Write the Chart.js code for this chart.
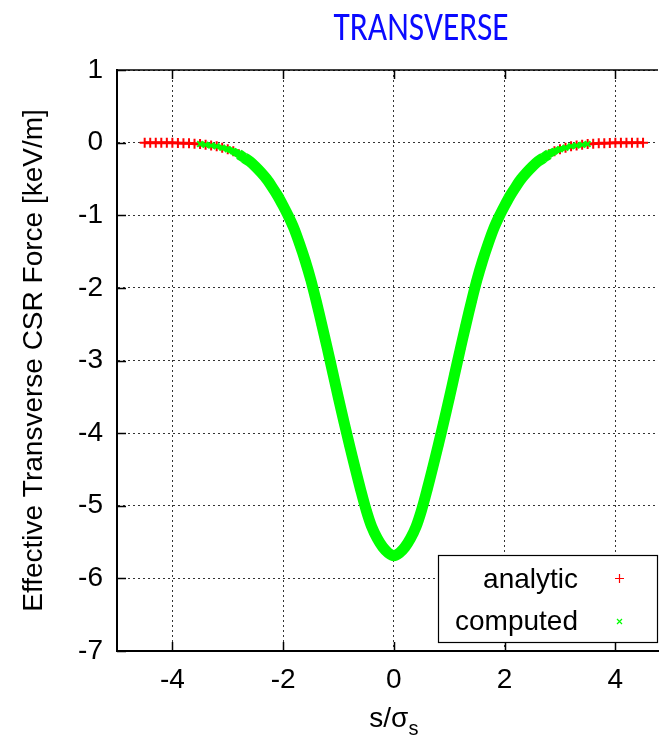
<!DOCTYPE html>
<html>
<head>
<meta charset="utf-8">
<script src="https://cdn.jsdelivr.net/npm/chart.js@4.4.1/dist/chart.umd.min.js"></script>
<style>
    body { margin: 0; background: #fff; }
    #wrap { width: 665px; height: 741px; position: relative; }
</style>
</head>
<body>
<div id="wrap"><canvas id="chart" width="665" height="741"></canvas></div>
<script>
// s / sigma_s positions and force values [keV/m]
const sAnalytic = [
    -4.5, -4.4, -4.3, -4.2, -4.1, -4.0, -3.9, -3.8, -3.7, -3.6,
    -3.5, -3.4, -3.3, -3.2, -3.1, -3.0, -2.9, -2.8, -2.7, -2.6,
    -2.5, -2.4, -2.3, -2.2, -2.1, -2.0, -1.9, -1.8, -1.7, -1.6,
    -1.5, -1.4, -1.3, -1.2, -1.1, -1.0, -0.9, -0.8, -0.7, -0.6,
    -0.5, -0.4, -0.3, -0.2, -0.1, 0.0, 0.1, 0.2, 0.3, 0.4,
    0.5, 0.6, 0.7, 0.8, 0.9, 1.0, 1.1, 1.2, 1.3, 1.4,
    1.5, 1.6, 1.7, 1.8, 1.9, 2.0, 2.1, 2.2, 2.3, 2.4,
    2.5, 2.6, 2.7, 2.8, 2.9, 3.0, 3.1, 3.2, 3.3, 3.4,
    3.5, 3.6, 3.7, 3.8, 3.9, 4.0, 4.1, 4.2, 4.3, 4.4, 4.5
];
const fAnalytic = [
    0, 0, -0.001, -0.001, -0.002, -0.003, -0.005, -0.007, -0.01, -0.015,
    -0.02, -0.03, -0.04, -0.05, -0.07, -0.09, -0.12, -0.16, -0.21, -0.26,
    -0.33, -0.41, -0.50, -0.61, -0.73, -0.87, -1.02, -1.19, -1.40, -1.63,
    -1.89, -2.19, -2.51, -2.84, -3.18, -3.52, -3.85, -4.17, -4.48, -4.78,
    -5.06, -5.29, -5.45, -5.57, -5.65, -5.68, -5.65, -5.57, -5.45, -5.29,
    -5.06, -4.78, -4.48, -4.17, -3.85, -3.52, -3.18, -2.84, -2.51, -2.19,
    -1.89, -1.63, -1.40, -1.19, -1.02, -0.87, -0.73, -0.61, -0.50, -0.41,
    -0.33, -0.26, -0.21, -0.16, -0.12, -0.09, -0.07, -0.05, -0.04, -0.03,
    -0.02, -0.015, -0.01, -0.007, -0.005, -0.003, -0.002, -0.001, -0.001, 0, 0
];

const sComputed = [
    -3.5, -3.4, -3.3, -3.2, -3.1, -3.0, -2.9, -2.8, -2.7, -2.6,
    -2.5, -2.4, -2.3, -2.2, -2.1, -2.0, -1.9, -1.8, -1.7, -1.6,
    -1.5, -1.4, -1.3, -1.2, -1.1, -1.0, -0.9, -0.8, -0.7, -0.6,
    -0.5, -0.4, -0.3, -0.2, -0.1, 0.0, 0.1, 0.2, 0.3, 0.4,
    0.5, 0.6, 0.7, 0.8, 0.9, 1.0, 1.1, 1.2, 1.3, 1.4,
    1.5, 1.6, 1.7, 1.8, 1.9, 2.0, 2.1, 2.2, 2.3, 2.4,
    2.5, 2.6, 2.7, 2.8, 2.9, 3.0, 3.1, 3.2, 3.3, 3.4, 3.5
];
const fComputed = [
    -0.02, -0.03, -0.04, -0.05, -0.07, -0.09, -0.12, -0.16, -0.21, -0.26,
    -0.33, -0.41, -0.50, -0.61, -0.73, -0.87, -1.02, -1.19, -1.40, -1.63,
    -1.89, -2.19, -2.51, -2.84, -3.18, -3.52, -3.85, -4.17, -4.48, -4.78,
    -5.06, -5.29, -5.45, -5.57, -5.65, -5.69, -5.65, -5.57, -5.45, -5.29,
    -5.06, -4.78, -4.48, -4.17, -3.85, -3.52, -3.18, -2.84, -2.51, -2.19,
    -1.89, -1.63, -1.40, -1.19, -1.02, -0.87, -0.73, -0.61, -0.50, -0.41,
    -0.33, -0.26, -0.21, -0.16, -0.12, -0.09, -0.07, -0.05, -0.04, -0.03, -0.02
];

const xTicks = [-4, -2, 0, 2, 4];
const seriesLabels = ['analytic', 'computed'];
const seriesColours = ['#ff0000', '#00ff00'];

const FONT = "'Liberation Sans', Arial, Helvetica, sans-serif";
const FS = 28;

function toPoints(xs, ys) {
    return xs.map((x, i) => ({ x: x, y: ys[i] }));
}

// gnuplot style decorations: title, inward ticks, top border, key box, x label
const decorations = {
    id: 'decorations',
    afterDraw(chart) {
        const ctx = chart.ctx;
        const area = chart.chartArea;
        const xs = chart.scales.x;
        const ys = chart.scales.y;

        ctx.save();
        ctx.strokeStyle = '#000';
        ctx.lineWidth = 1.5;
        ctx.beginPath();
        ctx.moveTo(area.left, area.top);
        ctx.lineTo(area.right, area.top);
        xTicks.forEach(v => {
            const px = Math.round(xs.getPixelForValue(v)) + 0.5;
            ctx.moveTo(px, area.bottom);
            ctx.lineTo(px, area.bottom - 9);
            ctx.moveTo(px, area.top);
            ctx.lineTo(px, area.top + 9);
        });
        ys.ticks.forEach(t => {
            const py = Math.round(ys.getPixelForValue(t.value)) + 0.5;
            ctx.moveTo(area.left, py);
            ctx.lineTo(area.left + 9, py);
        });
        ctx.stroke();

        // title
        ctx.save();
        ctx.fillStyle = '#0a0aff';
        ctx.font = "38px Carlito, 'Liberation Sans Narrow', 'Open Sans', sans-serif";
        ctx.textAlign = 'center';
        ctx.textBaseline = 'alphabetic';
        ctx.translate(421, 40);
        ctx.scale(0.88, 1.08);
        ctx.fillText('TRANSVERSE', 0, 0);
        ctx.restore();

        // x axis label with subscript
        ctx.fillStyle = '#000';
        ctx.font = FS + 'px ' + FONT;
        ctx.textAlign = 'left';
        const main = 's/σ';
        const w1 = ctx.measureText(main).width;
        ctx.font = '20px ' + FONT;
        const w2 = ctx.measureText('s').width;
        const x0 = xs.getPixelForValue(0) - (w1 + w2) / 2;
        ctx.font = FS + 'px ' + FONT;
        ctx.fillText(main, x0, 727);
        ctx.font = '20px ' + FONT;
        ctx.fillText('s', x0 + w1, 735);

        // key box
        ctx.fillStyle = '#fff';
        ctx.fillRect(438, 555, 220, 88);
        ctx.strokeStyle = '#000';
        ctx.lineWidth = 1.2;
        ctx.strokeRect(438.5, 555.5, 219, 87);

        ctx.fillStyle = '#000';
        ctx.font = FS + 'px ' + FONT;
        ctx.textAlign = 'right';
        ctx.fillText(seriesLabels[0], 578, 588);
        ctx.fillText(seriesLabels[1], 578, 630);

        ctx.lineWidth = 1.2;
        ctx.strokeStyle = seriesColours[0];
        ctx.beginPath();
        ctx.moveTo(615, 578.5); ctx.lineTo(624, 578.5);
        ctx.moveTo(619.5, 574); ctx.lineTo(619.5, 583);
        ctx.stroke();
        ctx.strokeStyle = seriesColours[1];
        ctx.beginPath();
        ctx.moveTo(617, 619); ctx.lineTo(622, 624);
        ctx.moveTo(622, 619); ctx.lineTo(617, 624);
        ctx.stroke();
        ctx.restore();
    }
};

const ctx = document.getElementById('chart').getContext('2d');

new Chart(ctx, {
    type: 'scatter',
    data: {
        datasets: [{
            label: seriesLabels[0],
            data: toPoints(sAnalytic, fAnalytic),
            pointStyle: 'cross',
            pointRadius: 5,
            pointBorderWidth: 2,
            borderColor: seriesColours[0],
            backgroundColor: seriesColours[0],
            showLine: true,
            borderWidth: 3,
            order: 2
        }, {
            label: seriesLabels[1],
            data: toPoints(sComputed, fComputed),
            pointStyle: 'crossRot',
            pointRadius: 4,
            pointBorderWidth: 2,
            borderColor: seriesColours[1],
            backgroundColor: seriesColours[1],
            showLine: true,
            borderWidth: 11,
            tension: 0.3,
            segment: {
                borderWidth: c => Math.min(11, 1 + Math.abs(c.p0.parsed.y + c.p1.parsed.y) * 25)
            },
            order: 1
        }]
    },
    options: {
        responsive: false,
        animation: false,
        layout: { padding: { top: 70, right: 0, left: 0, bottom: 0 } },
        plugins: {
            legend: { display: false },
            tooltip: { enabled: false }
        },
        scales: {
            x: {
                type: 'linear',
                min: -5,
                max: 4.77,
                afterBuildTicks: scale => {
                    scale.ticks = xTicks.map(v => ({ value: v }));
                },
                afterFit: scale => { scale.height = 90; },
                grid: {
                    color: '#333',
                    lineWidth: 1,
                    drawTicks: false
                },
                border: { color: '#000', width: 2, dash: [2, 3] },
                ticks: {
                    color: '#000',
                    font: { family: FONT, size: FS },
                    padding: 12,
                    maxRotation: 0
                }
            },
            y: {
                min: -7,
                max: 1,
                afterFit: scale => { scale.width = 117; },
                grid: {
                    color: '#333',
                    lineWidth: 1,
                    drawTicks: false
                },
                border: { color: '#000', width: 2, dash: [2, 3] },
                ticks: {
                    stepSize: 1,
                    color: '#000',
                    font: { family: FONT, size: FS },
                    padding: 14
                },
                title: {
                    display: true,
                    text: 'Effective Transverse CSR Force [keV/m]',
                    color: '#000',
                    font: { family: FONT, size: FS },
                    padding: { top: 17, bottom: 0 }
                }
            }
        }
    },
    plugins: [decorations]
});
</script>
</body>
</html>
